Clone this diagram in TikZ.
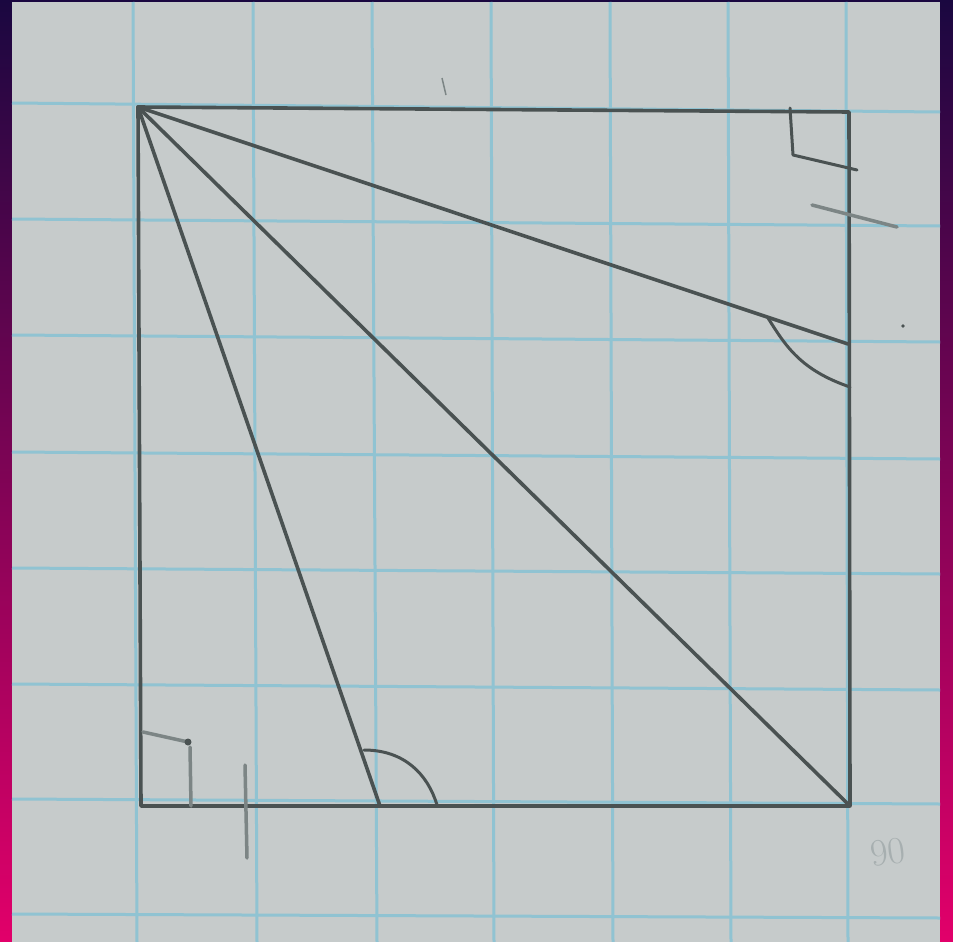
\documentclass[tikz,border=0pt]{standalone}
\usetikzlibrary{calc}
\definecolor{navy}{HTML}{1A0740}
\definecolor{pinkb}{HTML}{E2006A}
\definecolor{paper}{HTML}{C6CBCB}
\definecolor{gridblue}{HTML}{90C3D2}
\definecolor{pencil}{HTML}{4A5252}
\definecolor{pencilfaint}{HTML}{7C8585}
\definecolor{ghost}{HTML}{A7AFB0}
\tikzset{
  gridline/.style={gridblue, line width=3pt},
  pencilline/.style={pencil, line width=3.6pt, line cap=round, line join=round},
  markline/.style={pencil, line width=3pt, line cap=round, line join=round},
  faintline/.style={pencilfaint, line width=3.5pt, line cap=round, line join=round},
}
\begin{document}
\begin{tikzpicture}[x=1pt,y=-1pt]
\useasboundingbox (0,0) rectangle (953,942);
% background gradient frame
\shade[top color=navy, bottom color=pinkb] (0,0) rectangle (953,942);
% paper
\fill[paper] (12,2) rectangle (940,942);
% horizontal grid lines (slightly tilted)
\foreach \a/\b in {103/112, 219/226, 335/342, 452/459, 568/574, 684/690, 799/804, 914/918}
  \draw[gridline] (12,\a) -- (940,\b);
% vertical grid lines
\foreach \a/\b in {133/137, 253/257, 372/377, 491/494, 610/613, 728/731, 846/848}
  \draw[gridline] (\a,2) -- (\b,942);
% key points
\coordinate (TL) at (138,107);
\coordinate (TR) at (849,112);
\coordinate (BR) at (850,806);
\coordinate (BL) at (141,806);
\coordinate (M) at (380,806);
\coordinate (R) at (848,344);
% square
\draw[pencilline] (TL) -- (TR) -- (BR) -- (BL) -- cycle;
% segments from the top-left corner
\draw[pencilline] (TL) -- (M);
\draw[pencilline] (TL) -- (BR);
\draw[pencilline] (TL) -- (R);
% right-angle mark top right
\draw[markline] (790,108) -- (793,155) -- (857,170);
% tick mark on right side
\draw[faintline] (812,205) -- (897,227);
% angle mark at R
\draw[markline] (768,318) .. controls (785,345) and (800,370) .. (850,387);
% right-angle mark bottom left
\draw[faintline] (143,732) -- (188,742);
\fill[pencil] (188,742) circle (3.5pt);
\draw[faintline] (190,747) -- (191,806);
% tick mark on bottom side
\draw[faintline] (245,765) -- (247,858);
% angle mark at M
\draw[markline] (364,750) .. controls (405,750) and (428,775) .. (437,805);
% small stray marks
\draw[pencilfaint, line width=1.5pt] (442,78) -- (446,95);
\fill[pencil] (903,326) circle (1.8pt);
% faint erased text
\node[ghost, font=\fontsize{38}{38}\selectfont, rotate=8] (erased) at (888,852) {90};
\end{tikzpicture}
\end{document}
